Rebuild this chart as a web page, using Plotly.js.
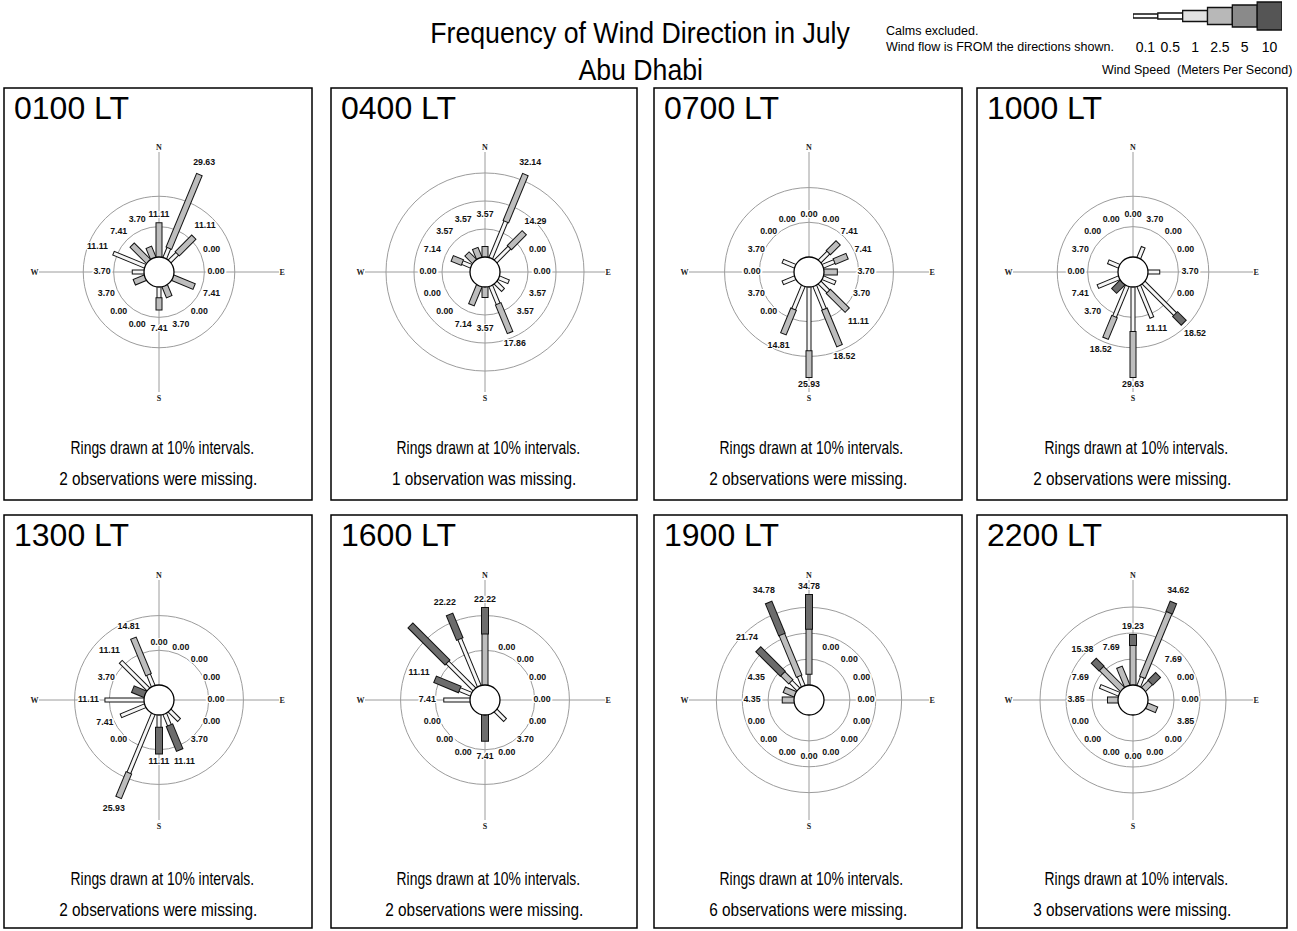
<!DOCTYPE html>
<html><head><meta charset="utf-8">
<script src="https://cdn.plot.ly/plotly-3.0.1.min.js"></script>
<style>html,body{margin:0;padding:0;background:#fff;}#chart{width:1297px;height:931px;}</style>
</head><body><div id="chart"></div>
<script>
// ---------- DATA ----------
const compass = ['N','NNE','NE','ENE','E','ESE','SE','SSE','S','SSW','SW','WSW','W','WNW','NW','NNW'];
const compassDeg = [0,22.5,45,67.5,90,112.5,135,157.5,180,202.5,225,247.5,270,292.5,315,337.5];
const speedClasses = ['0.1','0.5','1','2.5','5','10'];
const hours = ['0100 LT','0400 LT','0700 LT','1000 LT','1300 LT','1600 LT','1900 LT','2200 LT'];
const missingNotes = ['2 observations were missing.','1 observation was missing.','2 observations were missing.','2 observations were missing.',
                      '2 observations were missing.','2 observations were missing.','6 observations were missing.','3 observations were missing.'];
const zeros = [0,0,0,0,0,0,0,0,0,0,0,0,0,0,0,0];

// order of every array: N NNE NE ENE E ESE SE SSE S SSW SW WSW W WNW NW NNW  (percent)
const t0100     = [11.11,29.63,11.11,0.00,0.00,7.41,0.00,3.70,7.41,0.00,0.00,3.70,3.70,11.11,7.41,3.70];
const t0100_1   = [0,3.70,3.70,0,0,0,0,0,3.70,0,0,0,3.70,11.11,0,0];
const t0100_25  = [11.11,25.93,7.41,0,0,7.41,0,3.70,3.71,0,0,3.70,0,0,7.41,3.70];

const t0400     = [3.57,32.14,14.29,0.00,0.00,3.57,3.57,17.86,3.57,7.14,0.00,0.00,0.00,7.14,3.57,3.57];
const t0400_1   = [0,14.29,7.14,0,0,3.57,3.57,7.14,0,0,0,0,0,3.57,0,0];
const t0400_25  = [3.57,17.85,7.15,0,0,0,0,10.72,3.57,7.14,0,0,0,3.57,3.57,3.57];

const t0700     = [0.00,0.00,7.41,7.41,3.70,3.70,11.11,18.52,25.93,14.81,0.00,3.70,0.00,3.70,0.00,0.00];
const t0700_1   = [0,0,3.70,3.70,0,3.70,3.70,7.41,18.52,7.41,0,3.70,0,3.70,0,0];
const t0700_25  = [0,0,3.71,3.71,3.70,0,7.41,11.11,7.41,7.40,0,0,0,0,0,0];

const t1000     = [0.00,3.70,0.00,0.00,3.70,0.00,18.52,11.11,29.63,18.52,3.70,7.41,0.00,3.70,0.00,0.00];
const t1000_1   = [0,3.70,0,0,3.70,0,14.82,11.11,14.81,11.11,0,7.41,0,3.70,0,0];
const t1000_25  = [0,0,0,0,0,0,0,0,14.82,7.41,0,0,0,0,0,0];
const t1000_5   = [0,0,0,0,0,0,3.70,0,0,0,3.70,0,0,0,0,0];

const t1300     = [0.00,0.00,0.00,0.00,0.00,0.00,3.70,11.11,11.11,25.93,0.00,7.41,11.11,3.70,11.11,14.81];
const t1300_1   = [0,0,0,0,0,0,3.70,3.70,3.70,18.52,0,7.41,11.11,0,11.11,3.70];
const t1300_25  = [0,0,0,0,0,0,0,0,0,7.41,0,0,0,0,0,11.11];
const t1300_5   = [0,0,0,0,0,0,0,7.41,7.41,0,0,0,0,3.70,0,0];

const t1600     = [22.22,0.00,0.00,0.00,0.00,0.00,3.70,0.00,7.41,0.00,0.00,0.00,7.41,11.11,25.93,22.22];
const t1600_1   = [0,0,0,0,0,0,3.70,0,0,0,0,0,7.41,3.70,11.11,14.81];
const t1600_25  = [14.81,0,0,0,0,0,0,0,0,0,0,0,0,0,0,0];
const t1600_5   = [7.41,0,0,0,0,0,0,0,7.41,0,0,0,0,7.41,14.82,7.41];

const t1900     = [34.78,0.00,0.00,0.00,0.00,0.00,0.00,0.00,0.00,0.00,0.00,0.00,4.35,4.35,21.74,34.78];
const t1900_05  = [4.35,0,0,0,0,0,0,0,0,0,0,0,0,0,0,0];
const t1900_1   = [0,0,0,0,0,0,0,0,0,0,0,0,0,0,4.35,4.35];
const t1900_25  = [17.39,0,0,0,0,0,0,0,0,0,0,0,4.35,4.35,4.35,17.39];
const t1900_5   = [13.04,0,0,0,0,0,0,0,0,0,0,0,0,0,13.04,13.04];

const t2200     = [19.23,34.62,7.69,0.00,0.00,3.85,0.00,0.00,0.00,0.00,0.00,0.00,3.85,7.69,15.38,7.69];
const t2200_1   = [0,3.85,0,0,0,0,0,0,0,0,0,0,0,7.69,0,0];
const t2200_25  = [15.38,26.92,3.84,0,0,3.85,0,0,0,0,0,0,3.85,0,11.53,7.69];
const t2200_5   = [3.85,3.85,3.85,0,0,0,0,0,0,0,0,0,0,0,3.85,0];

// ---------- STYLE ----------
const FILL_W  = [0.5, 1, 3, 5, 6, 7];
const FILL_C  = ['#ffffff','#ffffff','#f6f6f6','#bdbdbd','#6c6c6c','#4c4c4c'];
const LEG_H   = [4, 6, 11, 17, 22, 28];
const LEG_C   = ['#ffffff','#ffffff','#e2e2e2','#b8b8b8','#8a8a8a','#555555'];
const REG     = 'Liberation Sans, Arial, Helvetica, sans-serif';

const panels = [
  {total:t0100, seg:[zeros,zeros,t0100_1,t0100_25,zeros,zeros]},
  {total:t0400, seg:[zeros,zeros,t0400_1,t0400_25,zeros,zeros]},
  {total:t0700, seg:[zeros,zeros,t0700_1,t0700_25,zeros,zeros]},
  {total:t1000, seg:[zeros,zeros,t1000_1,t1000_25,t1000_5,zeros]},
  {total:t1300, seg:[zeros,zeros,t1300_1,t1300_25,t1300_5,zeros]},
  {total:t1600, seg:[zeros,zeros,t1600_1,t1600_25,t1600_5,zeros]},
  {total:t1900, seg:[zeros,t1900_05,t1900_1,t1900_25,t1900_5,zeros]},
  {total:t2200, seg:[zeros,zeros,t2200_1,t2200_25,t2200_5,zeros]}
];

// ---------- GEOMETRY (px) ----------
const W = 1297, H = 931;
const BOX_L = [4,331,654,977], BOX_R = [312,637,962,1287];
const BOX_T = [88,515], BOX_B = [500,928];
const ROSE_CY = [272,700];
const R = 120, HOLE = 15, BAR_MAX_PX = 90, LABEL_MIN_PX = 57;
const px = v => v / W, py = v => 1 - v / H;

const data = [];
const layout = {
  width: W, height: H, margin:{l:0,r:0,t:0,b:0,pad:0},
  paper_bgcolor:'#fff', plot_bgcolor:'rgba(0,0,0,0)', showlegend:false,
  bargap:0, shapes:[], annotations:[]
};
const condense = [];   // horizontal squeeze per annotation (condensed typeface look)
function addText(opts, ratio) { layout.annotations.push(Object.assign({xref:'paper', yref:'paper', showarrow:false}, opts)); condense.push(ratio); }

const shadow = '1px 0 0 #fff, -1px 0 0 #fff, 0 1px 0 #fff, 0 -1px 0 #fff, 1px 1px 0 #fff, -1px -1px 0 #fff, 1px -1px 0 #fff, -1px 1px 0 #fff, 2px 0 0 #fff, -2px 0 0 #fff';

panels.forEach((P, p) => {
  const col = p % 4, row = Math.floor(p / 4);
  const bx0 = BOX_L[col], bx1 = BOX_R[col], by0 = BOX_T[row], by1 = BOX_B[row];
  const cx = (bx0 + bx1) / 2 + 1, cy = ROSE_CY[row];
  const maxT = Math.max(...P.total);
  const s = BAR_MAX_PX / maxT;          // px per percent
  const rmax = (R - HOLE) / s;
  const pid = p === 0 ? 'polar' : 'polar' + (p + 1);
  const cid = 'polar' + (p + 9);
  const rings = [10,20,30,40].filter(v => v <= maxT);

  layout[pid] = {
    domain:{x:[px(cx - R), px(cx + R)], y:[py(cy + R), py(cy - R)]},
    hole: HOLE / R, bgcolor:'rgba(0,0,0,0)',
    radialaxis:{range:[0, rmax], autorange:false, tickmode:'array', tickvals:rings, showticklabels:false, ticks:'',
                showline:false, gridcolor:'#9c9c9c', gridwidth:1},
    angularaxis:{rotation:90, direction:'clockwise', thetaunit:'degrees', tickmode:'array',
                 tickvals:[0,90,180,270], ticktext:['N','E','S','W'], showline:false, ticks:'',
                 gridcolor:'#9c9c9c', gridwidth:1,
                 tickfont:{family:'Liberation Serif, DejaVu Serif, serif', size:8, color:'#222', weight:'bold'}}
  };
  layout[cid] = {
    domain:{x:[px(cx - HOLE), px(cx + HOLE)], y:[py(cy + HOLE), py(cy - HOLE)]},
    bgcolor:'#fff',
    radialaxis:{visible:false, range:[0,1]},
    angularaxis:{showline:true, linecolor:'#000', linewidth:1.3, showgrid:false, ticks:'', showticklabels:false}
  };
  data.push({type:'scatterpolar', subplot:cid, r:[0], theta:[0], mode:'markers', marker:{opacity:0}, hoverinfo:'skip'});

  // bar segments, one pair of traces (outline, fill) per speed class
  const cum = P.total.map(() => 0);
  P.seg.forEach((arr, k) => {
    const rO = [], tO = [], rF = [], tF = [];
    arr.forEach((v, i) => {
      if (v > 0) {
        const a = cum[i], b = cum[i] + v;
        rF.push(a, b, null); tF.push(compassDeg[i], compassDeg[i], null);
        rO.push(a > 0 ? a - 1 / s : a, b + 1 / s, null); tO.push(compassDeg[i], compassDeg[i], null);
        cum[i] = b;
      }
    });
    if (rF.length) {
      data.push({type:'scatterpolar', subplot:pid, r:rO, theta:tO, mode:'lines', cliponaxis:false,
                 line:{color:'#111', width:FILL_W[k] + 2}, hoverinfo:'skip', connectgaps:false});
      data.push({type:'scatterpolar', subplot:pid, r:rF, theta:tF, mode:'lines', cliponaxis:false,
                 line:{color:FILL_C[k], width:FILL_W[k]}, hoverinfo:'skip', connectgaps:false});
    }
  });

  // percentage labels
  const lr = P.total.map((v, i) => {
    const ang = compassDeg[i] * Math.PI / 180;
    const ext = 14 * Math.abs(Math.sin(ang)) + 5 * Math.abs(Math.cos(ang));
    const lp = Math.max(LABEL_MIN_PX, HOLE + v * s + 3 + ext);
    return (lp - HOLE) / s;
  });
  data.push({type:'scatterpolar', subplot:pid, r:lr, theta:compassDeg, mode:'text', cliponaxis:false,
             text:P.total.map(v => v.toFixed(2)), textposition:'middle center', hoverinfo:'skip',
             textfont:{family:REG, size:8.8, color:'#111', weight:'bold', shadow:shadow}});

  // panel frame and texts
  layout.shapes.push({type:'rect', xref:'paper', yref:'paper', x0:px(bx0), x1:px(bx1), y0:py(by1), y1:py(by0),
                      line:{color:'#000', width:1.5}, fillcolor:'rgba(0,0,0,0)', layer:'below'});
  addText({x:px(bx0 + 8), y:py(by0 + 20), xanchor:'left', yanchor:'middle', align:'left',
           text:hours[p], font:{family:REG, size:32, color:'#000'}}, 1);
  const ty = row === 0 ? [447, 478] : [878, 909];
  addText({x:px((bx0 + bx1) / 2 + 4), y:py(ty[0]), xanchor:'center', yanchor:'middle',
           text:'Rings drawn at 10% intervals.', font:{family:REG, size:18.5, color:'#000'}}, 0.75);
  addText({x:px((bx0 + bx1) / 2), y:py(ty[1]), xanchor:'center', yanchor:'middle',
           text:missingNotes[p], font:{family:REG, size:18.5, color:'#000'}}, 0.83);
});

// titles and notes
addText({x:px(640), y:py(33), xanchor:'center', yanchor:'middle', text:'Frequency of Wind Direction in July',
         font:{family:REG, size:29, color:'#000'}}, 0.92);
addText({x:px(640), y:py(70), xanchor:'center', yanchor:'middle', text:'Abu Dhabi',
         font:{family:REG, size:29, color:'#000'}}, 0.92);
addText({x:px(884), y:py(39), xanchor:'left', yanchor:'middle', align:'left',
         text:'Calms excluded.<br>Wind flow is FROM the directions shown.',
         font:{family:REG, size:12.5, color:'#000'}}, 1);
addText({x:px(1294), y:py(70), xanchor:'right', yanchor:'middle', align:'right', text:'Wind Speed  (Meters Per Second)',
         font:{family:REG, size:12.5, color:'#000'}}, 1);

// wind speed legend as a small bar chart
layout.xaxis = {domain:[px(1133), px(1282)], type:'category', showgrid:false, zeroline:false, showline:false, ticks:'',
                tickangle:0, tickfont:{family:REG, size:14, color:'#000'}, ticklabelstandoff:6, fixedrange:true};
layout.yaxis = {domain:[py(31), py(1)], range:[-15,15], visible:false, fixedrange:true};
data.push({type:'bar', x:speedClasses, y:LEG_H, base:LEG_H.map(h => -h / 2), width:1, cliponaxis:false,
           marker:{color:LEG_C, line:{color:'#111', width:1.3}}, hoverinfo:'skip'});

Plotly.newPlot('chart', data, layout, {staticPlot:true}).then(gd => {
  const squeeze = (t, ratio) => {
    const w = t.getComputedTextLength();
    if (w > 0 && ratio !== 1) { t.setAttribute('textLength', (w * ratio).toFixed(2)); t.setAttribute('lengthAdjust', 'spacingAndGlyphs'); }
  };
  gd.querySelectorAll('g.annotation').forEach(g => {
    const i = +g.getAttribute('data-index');
    const t = g.querySelector('text.annotation-text');
    if (t && condense[i] && condense[i] !== 1) squeeze(t, condense[i]);
  });
});
</script></body></html>
